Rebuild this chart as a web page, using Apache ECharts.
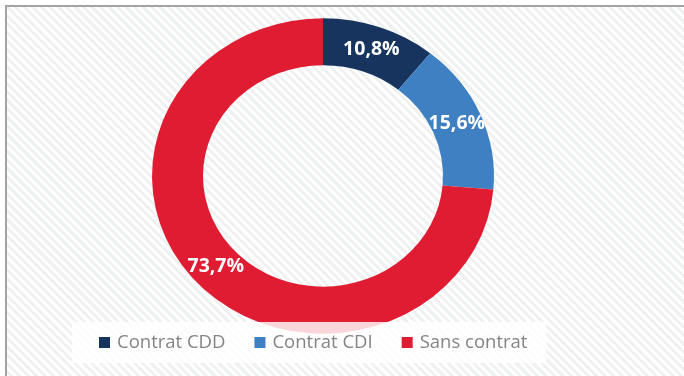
<!DOCTYPE html>
<html>
<head>
<meta charset="utf-8">
<script src="https://cdn.jsdelivr.net/npm/echarts@6/dist/echarts.min.js"></script>
<style>
  html, body { margin: 0; padding: 0; background: #ffffff; }
  #frame {
    position: absolute; left: 5px; top: 5px; width: 679px; height: 371px;
    border-top: 2px solid #a3a3a3; border-left: 2px solid #a3a3a3;
    background: repeating-linear-gradient(45deg, #ffffff 0px, #ffffff 3px, #f0f2f2 3px, #f0f2f2 6px);
  }
  #chart { position: absolute; left: 0; top: 0; width: 684px; height: 376px; }
</style>
</head>
<body>
<div id="frame"></div>
<div id="chart"></div>
<script>
// Contract status shares (%)
const categories = ['Contrat CDD', 'Contrat CDI', 'Sans contrat'];
const values = [10.8, 15.6, 73.7];
const labels = ['10,8%', '15,6%', '73,7%'];
const colors = ['#17345f', '#3f80c3', '#e01c33'];

const total = values.reduce((a, b) => a + b, 0);

// Ring geometry (slightly flattened vertically)
const CX = 323, CY = 176, R_OUT = 171, R_IN = 120, FLAT = 0.922;

function ringSlice(i) {
  return function (params, api) {
    const before = values.slice(0, i).reduce((a, b) => a + b, 0);
    const v = api.value(0);
    const a0 = -Math.PI / 2 + before / total * Math.PI * 2;
    const a1 = a0 + v / total * Math.PI * 2;
    const mid = (a0 + a1) / 2;
    const rm = (R_OUT + R_IN) / 2;
    return {
      type: 'group',
      children: [
        {
          type: 'sector',
          shape: { cx: CX, cy: CY, r: R_OUT, r0: R_IN, startAngle: a0, endAngle: a1, clockwise: true },
          originX: CX, originY: CY, scaleY: FLAT,
          style: { fill: api.visual('color') }
        },
        {
          type: 'text',
          x: CX + rm * Math.cos(mid),
          y: CY + rm * Math.sin(mid) * FLAT,
          style: {
            text: labels[i], fill: '#ffffff', align: 'center', verticalAlign: 'middle',
            fontFamily: 'Open Sans', fontWeight: 'bold', fontSize: 19.5
          }
        }
      ]
    };
  };
}

const chart = echarts.init(document.getElementById('chart'), null, { renderer: 'canvas' });
chart.setOption({
  backgroundColor: 'transparent',
  animation: false,
  legend: {
    data: categories,
    left: 72, top: 322,
    padding: [11, 19, 11, 27],
    backgroundColor: 'rgba(255,255,255,0.82)',
    icon: 'rect', itemWidth: 11, itemHeight: 11, itemGap: 29,
    textStyle: { color: '#848484', fontFamily: 'Open Sans', fontSize: 18.5, lineHeight: 18, padding: [0, 0, 0, 2] },
    selectedMode: false
  },
  series: categories.map((name, i) => ({
    type: 'custom',
    name: name,
    coordinateSystem: 'none',
    itemStyle: { color: colors[i] },
    data: [values[i]],
    renderItem: ringSlice(i)
  }))
});
</script>
</body>
</html>
